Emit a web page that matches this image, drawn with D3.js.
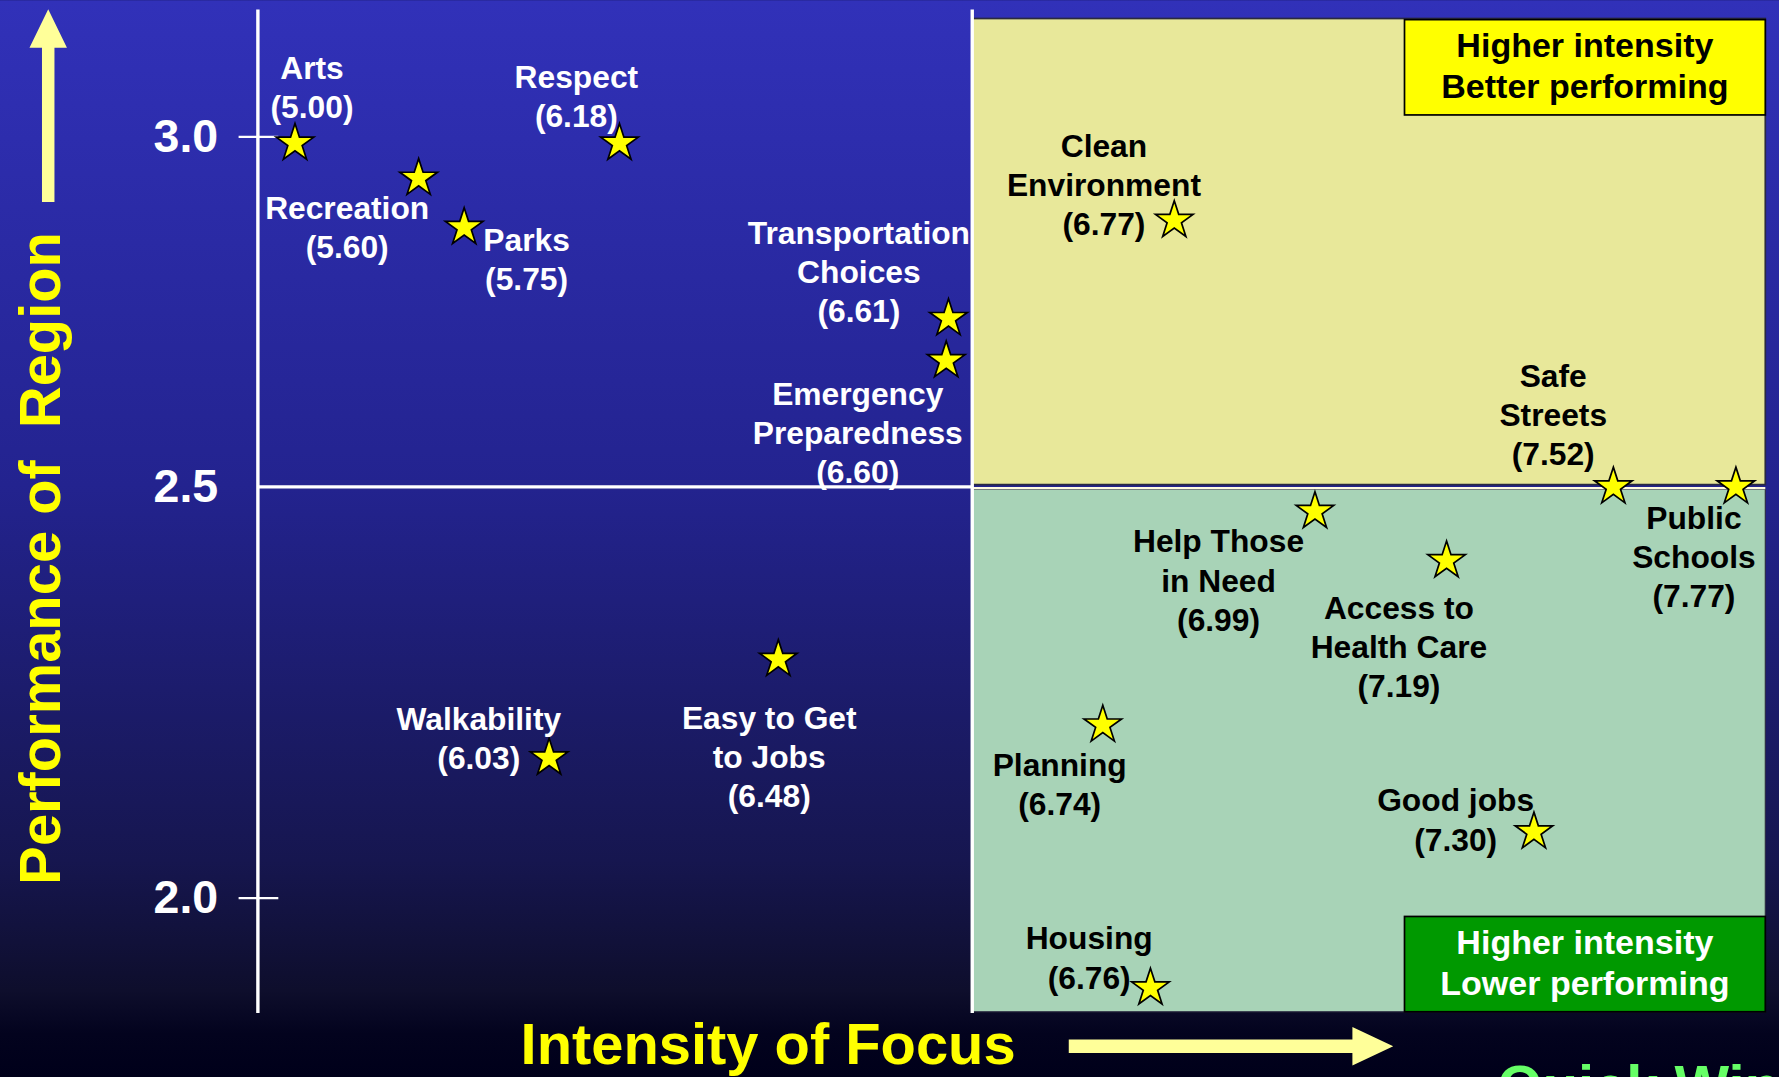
<!DOCTYPE html>
<html>
<head>
<meta charset="utf-8">
<script src="https://cdn.jsdelivr.net/npm/d3@7"></script>
<style>
  html, body { margin: 0; padding: 0; background: #000018; overflow: hidden; }
  svg { display: block; font-family: "Liberation Sans", Arial, sans-serif; font-weight: bold; }
</style>
</head>
<body>
<svg id="chart"></svg>
<script>
// items, their intensity score (shown in the label) and regional performance
const items = [
  'Arts', 'Respect', 'Recreation', 'Parks', 'Transportation\nChoices',
  'Emergency\nPreparedness', 'Walkability', 'Easy to Get\nto Jobs',
  'Clean\nEnvironment', 'Safe\nStreets', 'Public\nSchools', 'Help Those\nin Need',
  'Access to\nHealth Care', 'Planning', 'Good jobs', 'Housing'
];
const intensity = [5.00, 6.18, 5.60, 5.75, 6.61, 6.60, 6.03, 6.48, 6.77, 7.52, 7.77, 6.99, 7.19, 6.74, 7.30, 6.76];
const performance = [2.99, 2.99, 2.94, 2.87, 2.74, 2.68, 2.17, 2.29, 2.88, 2.50, 2.50, 2.47, 2.41, 2.21, 2.08, 1.89];
const yTicks = [2.0, 2.5, 3.0];
const quadrantText = {
  better: ['Higher intensity', 'Better performing'],
  lower: ['Higher intensity', 'Lower performing']
};

// label placement relative to each star (first line centre)
const labelOffset = {
  'Arts': [15, -67], 'Respect': [-38, -59], 'Recreation': [-63, 26], 'Parks': [55, 11],
  'Transportation\nChoices': [-79, -76], 'Emergency\nPreparedness': [-78, 29],
  'Walkability': [-62, -35], 'Easy to Get\nto Jobs': [-8, 51], 'Clean\nEnvironment': [-62, -66],
  'Safe\nStreets': [-53, -98], 'Public\nSchools': [-37, 27], 'Help Those\nin Need': [-85, 26],
  'Access to\nHealth Care': [-42, 41], 'Planning': [-38, 35], 'Good jobs': [-69, -28],
  'Housing': [-54, -44]
};

const data = items.map((name, i) => ({
  name,
  lines: (name + '\n(' + intensity[i].toFixed(2) + ')').split('\n'),
  x: intensity[i],
  y: performance[i]
}));

const W = 1568, H = 949;
const svg = d3.select('#chart')
  .attr('width', 1779)
  .attr('height', 1077)
  .attr('viewBox', `0 0 ${W} ${H}`);

// background gradient
const defs = svg.append('defs');
const grad = defs.append('linearGradient')
  .attr('id', 'bg').attr('x1', 0).attr('x2', 0).attr('y1', 0).attr('y2', 1);
[[0, '#3131b9'], [0.45, '#23238f'], [0.8, '#16164f'], [0.92, '#0e0e2c'], [0.96, '#03031e'], [1, '#00001a']]
  .forEach(([o, c]) => grad.append('stop').attr('offset', o).attr('stop-color', c));
svg.append('rect').attr('width', W).attr('height', H).attr('fill', 'url(#bg)');

// the original slide places intensity on a hand-drawn (non-linear) axis
const xScale = d3.scaleLinear()
  .domain([5.0, 5.6, 6.03, 6.18, 6.48, 6.6, 6.61, 6.74, 6.77, 6.99, 7.19, 7.3, 7.52, 7.77])
  .range([260, 369, 484, 546, 686, 834, 836, 972, 1035, 1159, 1275, 1352, 1422, 1530]);
const yScale = d3.scaleLinear()
  .domain([2.0, 2.5, 3.0])
  .range([791, 429, 120]);

const xLeft = 4.82, xSplit = 6.63, xRight = 7.83;
const yTop = 3.181, yQuadTop = 3.168, yBottom = 1.861, ySplit = 2.5;

const x0 = xScale(xLeft), xs = xScale(xSplit), x1 = xScale(xRight);
const yMid = yScale(ySplit);

// quadrants
svg.append('rect')
  .attr('x', xs).attr('y', yScale(yQuadTop))
  .attr('width', x1 - xs).attr('height', yMid - 2 - yScale(yQuadTop))
  .attr('fill', '#e8e89a').attr('stroke', '#2a2a40').attr('stroke-width', 1.5);
svg.append('rect')
  .attr('x', xs).attr('y', yMid + 2)
  .attr('width', x1 - xs).attr('height', yScale(yBottom) - yMid - 2)
  .attr('fill', '#a8d3b7').attr('stroke', '#2a2a40').attr('stroke-width', 1);

// quadrant label boxes
const boxW = 318, boxH = 84;
const boxes = [
  { key: 'better', y: yScale(yQuadTop) + 1, fill: '#ffff00', color: '#000' },
  { key: 'lower', y: yScale(yBottom) - boxH, fill: '#009900', color: '#fff' }
];
boxes.forEach(b => {
  svg.append('rect')
    .attr('x', x1 - boxW).attr('y', b.y)
    .attr('width', boxW).attr('height', boxH)
    .attr('fill', b.fill).attr('stroke', '#000').attr('stroke-width', 1.5);
  svg.append('text')
    .attr('x', x1 - boxW / 2).attr('y', b.y + 33)
    .attr('text-anchor', 'middle')
    .attr('font-size', 30).attr('fill', b.color)
    .selectAll('tspan').data(quadrantText[b.key]).enter().append('tspan')
    .attr('x', x1 - boxW / 2).attr('dy', (d, i) => i === 0 ? 0 : 36)
    .text(d => d);
});

// divider lines
svg.append('line')
  .attr('x1', x0).attr('x2', xs).attr('y1', yMid).attr('y2', yMid)
  .attr('stroke', '#fff').attr('stroke-width', 3);
svg.append('line')
  .attr('x1', xs).attr('x2', x1).attr('y1', yMid + 1).attr('y2', yMid + 1)
  .attr('stroke', '#fffbe0').attr('stroke-width', 2);
svg.append('line')
  .attr('x1', xs).attr('x2', xs).attr('y1', yScale(yTop)).attr('y2', yScale(yBottom) + 1)
  .attr('stroke', '#fff').attr('stroke-width', 3);

// y axis
svg.append('line')
  .attr('x1', x0).attr('x2', x0).attr('y1', yScale(yTop)).attr('y2', yScale(yBottom) + 1)
  .attr('stroke', '#fff').attr('stroke-width', 3);

const yAxis = svg.append('g')
  .attr('transform', `translate(${x0},0)`)
  .call(d3.axisLeft(yScale).tickValues(yTicks).tickFormat(d3.format('.1f')).tickSize(17).tickPadding(18));
yAxis.select('.domain').remove();
yAxis.selectAll('.tick line')
  .attr('x1', -17).attr('x2', 18)
  .attr('stroke', '#fff').attr('stroke-width', 2)
  .style('display', d => d === ySplit ? 'none' : null);
yAxis.selectAll('.tick text')
  .attr('x', -35)
  .attr('fill', '#fff')
  .attr('font-size', 41)
  .attr('font-family', '"Liberation Sans", Arial, sans-serif')
  .attr('font-weight', 'bold');

// stars
const star = d3.symbol().type(d3.symbolStar).size(340);
svg.append('g').selectAll('path')
  .data(data).enter().append('path')
  .attr('d', star)
  .attr('transform', d => `translate(${xScale(d.x)},${yScale(d.y)})`)
  .attr('fill', '#ffff00').attr('stroke', '#000').attr('stroke-width', 1.5);

// labels
const labels = svg.append('g').selectAll('text')
  .data(data).enter().append('text')
  .attr('text-anchor', 'middle')
  .attr('font-size', 28)
  .attr('fill', d => d.x > xSplit ? '#000' : '#fff')
  .attr('transform', d => {
    const o = labelOffset[d.name];
    return `translate(${xScale(d.x) + o[0]},${yScale(d.y) + o[1] + 10})`;
  });
labels.selectAll('tspan')
  .data(d => d.lines).enter().append('tspan')
  .attr('x', 0).attr('y', (d, i) => i * 34.5)
  .text(d => d);

// axis titles and arrows
svg.append('text')
  .attr('transform', 'translate(53,492) rotate(-90)')
  .attr('text-anchor', 'middle')
  .attr('font-size', 51).attr('fill', '#ffff00')
  .attr('xml:space', 'preserve')
  .text('Performance of  Region');
svg.append('path')
  .attr('d', 'M37,178 L37,42 L26,42 L42.5,8 L59,42 L48,42 L48,178 Z')
  .attr('fill', '#ffff99');

svg.append('text')
  .attr('x', 677).attr('y', 938)
  .attr('text-anchor', 'middle')
  .attr('font-size', 51).attr('fill', '#ffff00')
  .text('Intensity of Focus');
svg.append('path')
  .attr('d', 'M942,916 L1192,916 L1192,905 L1228,922 L1192,939 L1192,928 L942,928 Z')
  .attr('fill', '#ffff99');

svg.append('text')
  .attr('x', 1320).attr('y', 975)
  .attr('font-size', 51).attr('fill', '#66ff66')
  .text('Quick Wins');
</script>
</body>
</html>
